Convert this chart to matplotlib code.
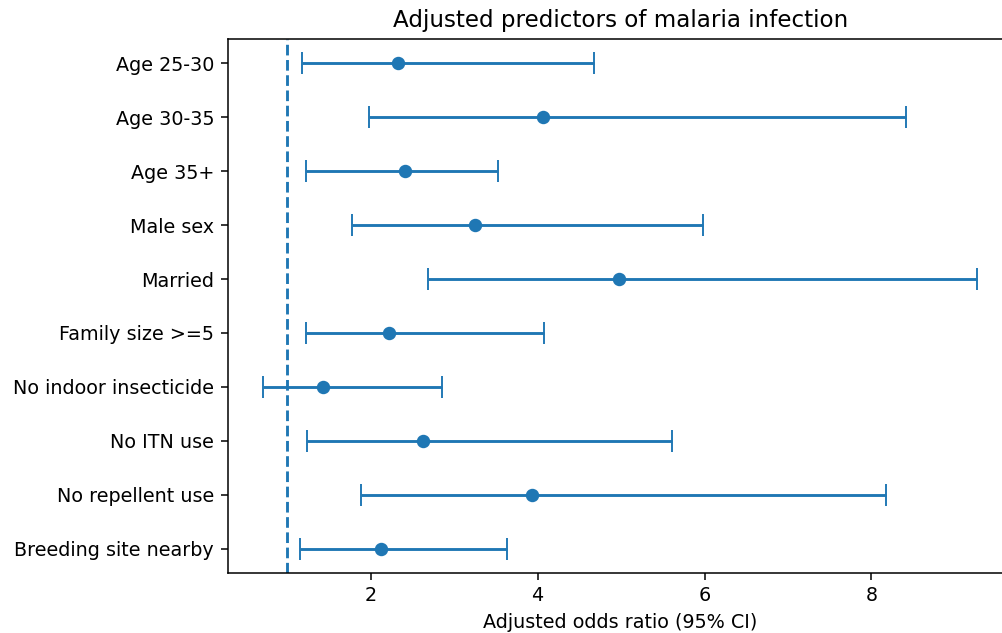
import matplotlib
matplotlib.use("Agg")
import matplotlib.pyplot as plt

predictors = ['Age 25-30', 'Age 30-35', 'Age 35+', 'Male sex', 'Married',
              'Family size >=5', 'No indoor insecticide', 'No ITN use',
              'No repellent use', 'Breeding site nearby']
aor = [2.32, 4.06, 2.41, 3.25, 4.98, 2.22, 1.43, 2.62, 3.93, 2.12]
ci_low = [1.18, 1.98, 1.22, 1.78, 2.69, 1.22, 0.71, 1.24, 1.88, 1.15]
ci_high = [4.67, 8.42, 3.52, 5.98, 9.27, 4.07, 2.85, 5.61, 8.18, 3.63]

W, H, DPI = 1002, 633, 138
fig = plt.figure(figsize=(W / DPI, H / DPI), dpi=DPI)
# axes runs a bit past the right edge, like the cropped original
ax = fig.add_axes([227.5 / W, (H - 573) / H, (1013 - 227.5) / W, (573 - 39) / H])

ypos = list(range(len(predictors)))
err = [[a - l for a, l in zip(aor, ci_low)], [h - a for a, h in zip(aor, ci_high)]]
ax.errorbar(aor, ypos, xerr=err, fmt='o', capsize=5.5)
ax.axvline(1, linestyle='--')

ax.set_yticks(ypos)
ax.set_yticklabels(predictors)
ax.invert_yaxis()
ax.spines['right'].set_visible(False)
ax.set_xlabel('Adjusted odds ratio (95% CI)')
ax.set_title('Adjusted predictors of malaria infection')

fig.savefig('out.png', dpi=DPI)
